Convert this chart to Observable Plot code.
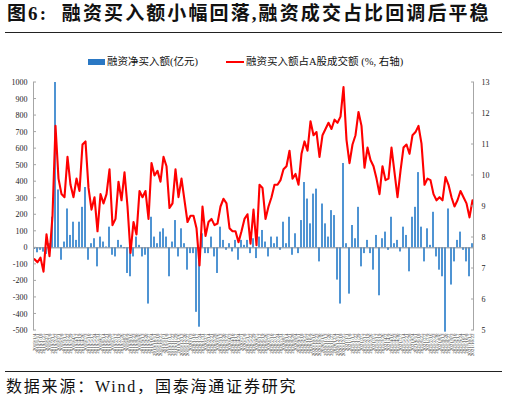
<!DOCTYPE html>
<html><head><meta charset="utf-8">
<script src="https://cdn.jsdelivr.net/npm/d3@7"></script>
<script src="https://cdn.jsdelivr.net/npm/@observablehq/plot@0.6"></script>
<style>
body{margin:0;width:508px;height:401px;position:relative;background:#fff;overflow:hidden;font-family:"Liberation Serif","Noto Sans CJK SC",serif;color:#111}
.abs{position:absolute;white-space:nowrap}
</style></head><body>
<div class="abs" id="title" style="left:7px;top:4px;font-weight:bold;font-size:19px;line-height:19px;letter-spacing:2.1px">图6:&nbsp; 融资买入额小幅回落,融资成交占比回调后平稳</div>
<div class="abs" style="left:5px;top:32px;width:497px;border-top:1.6px solid #222"></div>
<div class="abs" id="legend" style="left:0;top:55px;width:508px;height:14px;font-size:10.5px;line-height:14px"></div>
<div class="abs" id="chart" style="left:0;top:72px"></div>
<div class="abs" style="left:5px;top:371px;width:497px;border-top:1.6px solid #222"></div>
<div class="abs" id="caption" style="left:6px;top:378px;font-size:16px;line-height:18px;letter-spacing:1.8px">数据来源：Wind，国泰海通证券研究</div>
<script>
// Series values
const netBuy = [
 -10,-30,-15,-26,-40,25,185,1000,350,-75,
 35,235,75,155,45,155,245,365,-75,25,
 55,-115,65,35,5,125,-45,-55,45,15,
 -5,-155,-175,-55,65,15,-55,-45,
 -340,185,65,25,95,115,65,-175,35,165,
 -55,115,25,-135,-35,-35,-390,-480,85,-35,
 -35,65,-55,-155,125,45,-15,25,-25,45,
 -75,45,15,45,-35,55,-65,
 65,105,35,-55,65,25,65,-15,155,25,
 185,-45,85,-35,165,395,295,145,325,355,
 -85,265,145,65,225,195,-195,-340,510,25,
 -280,135,55,245,-115,-35,
 45,-35,-135,75,-290,55,95,-15,185,25,
 45,-25,125,75,-145,185,245,455,125,-85,
 115,15,215,-55,-135,-175,-510,235,-225,-85,
 45,95,-15,-85,-175,25
];
const ratioPct = [
 7.3,7.2,7.35,6.9,8.1,7.4,8.7,11.6,9.9,9.4,
 9.3,10.6,9.7,9.3,9.9,9.5,11.0,11.1,9.6,8.9,
 9.3,8.2,9.4,9.1,9.4,10.2,8.4,8.6,9.8,9.2,
 10.1,9.0,7.5,8.5,8.1,9.5,9.3,9.5,
 8.6,10.4,10.0,10.15,9.8,10.6,10.3,8.95,9.1,10.2,
 9.3,9.9,9.2,8.5,8.7,8.7,8.3,7.1,9.0,8.05,
 8.5,8.6,8.4,8.45,9.0,9.25,9.1,8.3,8.2,8.2,
 7.85,8.2,8.6,8.75,7.8,8.9,7.75,
 9.7,9.6,8.6,9.0,9.3,9.7,9.7,9.85,10.2,10.3,
 10.8,9.9,10.05,9.7,10.7,11.1,10.8,11.75,11.3,11.4,
 10.6,11.3,11.5,11.7,11.5,11.8,11.7,11.9,12.85,11.15,
 10.4,11.0,11.3,12.05,11.6,10.25,
 10.9,10.5,10.3,9.9,9.4,10.3,9.85,9.9,10.9,10.1,
 9.3,10.15,10.9,11.0,10.7,11.3,11.4,11.6,11.03,9.7,
 9.9,9.85,9.4,9.2,9.3,9.2,9.95,9.7,9.3,9.0,
 9.2,9.5,9.3,9.1,8.65,9.2
];
// Category (date) labels, weekly
const firstDate = "2019-01-04";
const fmt = d3.utcFormat("%Y/%-m/%-d");
const dateLabels = netBuy.map((_, i) => fmt(d3.utcDay.offset(new Date(firstDate), 7 * i)));
const leftTicks = [-500,-400,-300,-200,-100,0,100,200,300,400,500,600,700,800,900,1000];
const rightTicks = [5,6,7,8,9,10,11,12,13];
const seriesNames = ["融资净买入额(亿元)", "融资买入额占A股成交额 (%, 右轴)"];

// right axis (5..13) mapped onto left axis (-500..1000)
const toLeft = r => -500 + (r - 5) * 187.5;
const fromLeft = v => String(Math.round((v + 500) / 187.5 + 5));

const data = dateLabels.map((d, i) => ({d, net: netBuy[i], ratio: toLeft(ratioPct[i])}));

const W = 508, H = 290, mL = 33, mR = 34, mT = 10, mB = 32;
const chart = Plot.plot({
  width: W, height: H,
  marginTop: mT, marginBottom: mB, marginLeft: mL, marginRight: mR,
  style: {fontFamily: "Liberation Serif, serif", fontSize: "8px", color: "#222", background: "#fff"},
  x: {type: "band", domain: dateLabels, paddingInner: 0.3, paddingOuter: 0.05},
  y: {domain: [-500, 1000]},
  marks: [
    Plot.barY(data, {x: "d", y: "net", fill: "#4f94d3"}),
    Plot.ruleY([0], {stroke: "#7d8896", strokeWidth: 1}),
    Plot.line(data, {x: "d", y: "ratio", stroke: "#ff0000", strokeWidth: 2.1, curve: "linear"}),
    Plot.axisY(leftTicks, {anchor: "left", tickSize: 0, tickPadding: 6, label: null, fontSize: 8, tickFormat: d => String(d)}),
    Plot.axisY(rightTicks.map(toLeft), {anchor: "right", tickSize: 0, tickPadding: 7, label: null, tickFormat: fromLeft, fontSize: 8}),
    Plot.axisX({anchor: "bottom", tickSize: 0, tickPadding: 3, tickRotate: -90, label: null, fontSize: 5, fill: "#333"})
  ]
});
document.getElementById("chart").appendChild(chart);

// axis lines and inward ticks, drawn from the plot's own scale
const ys = chart.scale("y");
const svg = d3.select(chart);
const yTop = ys.apply(1000), yBot = ys.apply(-500);
const xl = mL, xr = W - mR;
const g = svg.append("g").attr("stroke", "#a6a6a6").attr("stroke-width", 1);
g.append("line").attr("x1", xl + 0.5).attr("x2", xl + 0.5).attr("y1", yTop).attr("y2", yBot);
g.append("line").attr("x1", xr - 0.5).attr("x2", xr - 0.5).attr("y1", yTop).attr("y2", yBot);
leftTicks.forEach(v => g.append("line").attr("x1", xl).attr("x2", xl + 3).attr("y1", ys.apply(v)).attr("y2", ys.apply(v)));
rightTicks.forEach(r => g.append("line").attr("x1", xr - 3).attr("x2", xr).attr("y1", ys.apply(toLeft(r))).attr("y2", ys.apply(toLeft(r))));

// legend
const lg = document.getElementById("legend");
lg.innerHTML =
  `<span class="abs" style="left:88px;top:4px;width:17px;height:6px;background:#2a78c4"></span>` +
  `<span class="abs" style="left:107px;top:0">${seriesNames[0]}</span>` +
  `<span class="abs" style="left:226px;top:6px;width:18px;height:0;border-top:2px solid #ff0000"></span>` +
  `<span class="abs" style="left:246px;top:0">${seriesNames[1]}</span>`;
</script>
</body></html>
